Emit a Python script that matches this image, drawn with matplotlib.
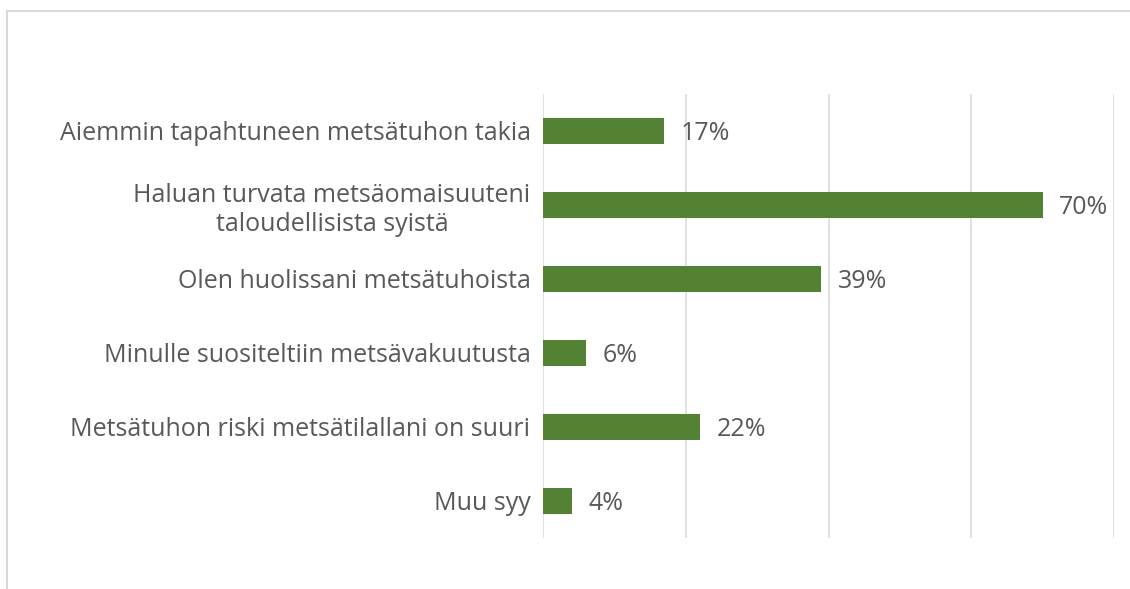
import matplotlib
matplotlib.use("Agg")
import matplotlib.pyplot as plt

categories = [
    "Aiemmin tapahtuneen metsätuhon takia",
    "Haluan turvata metsäomaisuuteni\ntaloudellisista syistä",
    "Olen huolissani metsätuhoista",
    "Minulle suositeltiin metsävakuutusta",
    "Metsätuhon riski metsätilallani on suuri",
    "Muu syy",
]
values = [0.17, 0.70, 0.39, 0.06, 0.22, 0.04]
value_labels = ["17%", "70%", "39%", "6%", "22%", "4%"]
xticks = [0.0, 0.2, 0.4, 0.6, 0.8]

plt.rcParams['font.family'] = ['Open Sans', 'DejaVu Sans']
text_color = "#595959"
bar_color = "#548235"
grid_color = "#d9d9d9"

fig = plt.figure(figsize=(11.3, 5.89), dpi=100)
fig.patch.set_facecolor("white")

W, H = 1130, 589
fig.add_artist(plt.Line2D([7 / W, 7 / W], [0, 1 - 11 / H], color=grid_color, lw=1.5, transform=fig.transFigure))
fig.add_artist(plt.Line2D([7 / W, 1], [1 - 11 / H, 1 - 11 / H], color=grid_color, lw=1.5, transform=fig.transFigure))

ax = fig.add_axes([543 / W, 51 / H, (1114 - 543) / W, (538 - 94) / H])
ypos = list(range(len(categories)))
ax.barh(ypos, values, height=0.35, color=bar_color, zorder=3)
ax.set_ylim(len(categories) - 0.5, -0.5)
ax.set_xlim(0, 0.8)
ax.set_xticks(xticks)
ax.set_xticklabels([])
ax.tick_params(axis='x', length=0)
ax.tick_params(axis='y', length=0, pad=9, labelsize=18, labelcolor=text_color)
ax.set_yticks(ypos)
ax.set_yticklabels(categories, multialignment='center', linespacing=1.2)
ax.grid(axis='x', color=grid_color, lw=1.1, zorder=0)
for s in ax.spines.values():
    s.set_visible(False)

for y, v, lab in zip(ypos, values, value_labels):
    ax.annotate(lab, (v, y), xytext=(12, -1.5), textcoords='offset points',
                va='center', ha='left', fontsize=18, color=text_color)

fig.savefig("out.png", dpi=100, facecolor="white")
